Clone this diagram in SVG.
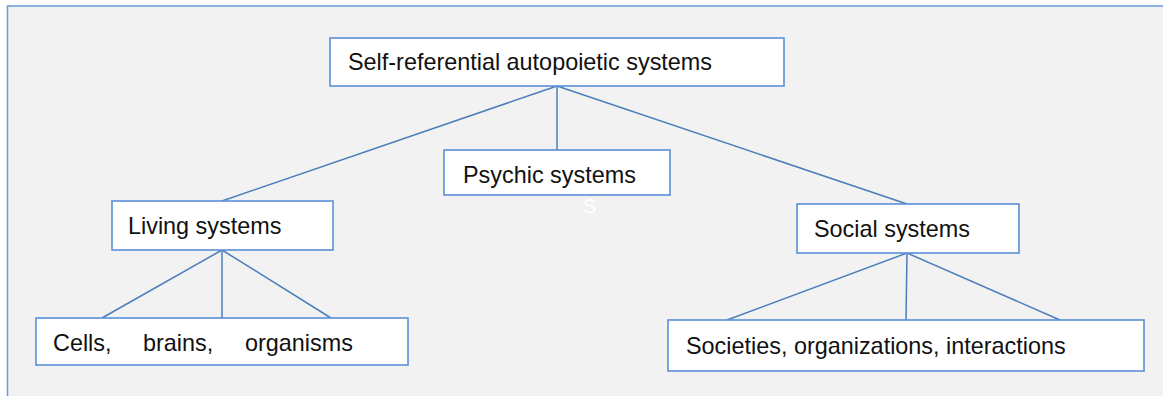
<svg xmlns="http://www.w3.org/2000/svg" width="1163" height="396" viewBox="0 0 1163 396">
<style>
.box{fill:#ffffff;stroke:#5b8fd6;stroke-width:1.6}
.lbl{font-family:"Liberation Sans",Arial,sans-serif;font-size:23.4px;fill:#111111}
.con line{stroke:#4a7ebb;stroke-width:1.5}
</style>
<rect x="0" y="0" width="1163" height="396" fill="#ffffff"/>
<rect id="frame" x="7.5" y="6" width="1170" height="400" fill="#f2f2f2" stroke="#6a9bd8" stroke-width="1.5"/>
<g id="connectors" class="con">
<line x1="557" y1="86" x2="557" y2="150"/>
<line x1="557" y1="86" x2="222" y2="201"/>
<line x1="557" y1="86" x2="907" y2="204"/>
<line x1="222" y1="250" x2="102" y2="318"/>
<line x1="222" y1="250" x2="222" y2="318"/>
<line x1="222" y1="250" x2="331" y2="318"/>
<line x1="907" y1="253" x2="727" y2="320"/>
<line x1="907" y1="253" x2="906" y2="320"/>
<line x1="907" y1="253" x2="1060" y2="320"/>
</g>
<g id="top">
<rect class="box" x="330" y="38" width="454" height="48"/>
<text class="lbl" x="348" y="70">Self-referential autopoietic systems</text>
</g>
<g id="psychic">
<rect class="box" x="444" y="150" width="226" height="45"/>
<text class="lbl" x="463" y="183">Psychic systems</text>
</g>
<text x="583" y="213" font-family="Liberation Sans,Arial,sans-serif" font-size="20" fill="#ffffff">S</text>
<g id="living">
<rect class="box" x="112" y="201" width="221" height="49"/>
<text class="lbl" x="128" y="234">Living systems</text>
</g>
<g id="social">
<rect class="box" x="797" y="204" width="222" height="49"/>
<text class="lbl" x="814" y="237">Social systems</text>
</g>
<g id="cells">
<rect class="box" x="36" y="318" width="372" height="47"/>
<text class="lbl" y="351"><tspan x="53">Cells,</tspan><tspan x="143">brains,</tspan><tspan x="245">organisms</tspan></text>
</g>
<g id="societies">
<rect class="box" x="668" y="320" width="476" height="51" stroke-width="2"/>
<text class="lbl" x="686" y="354">Societies, organizations, interactions</text>
</g>
</svg>
